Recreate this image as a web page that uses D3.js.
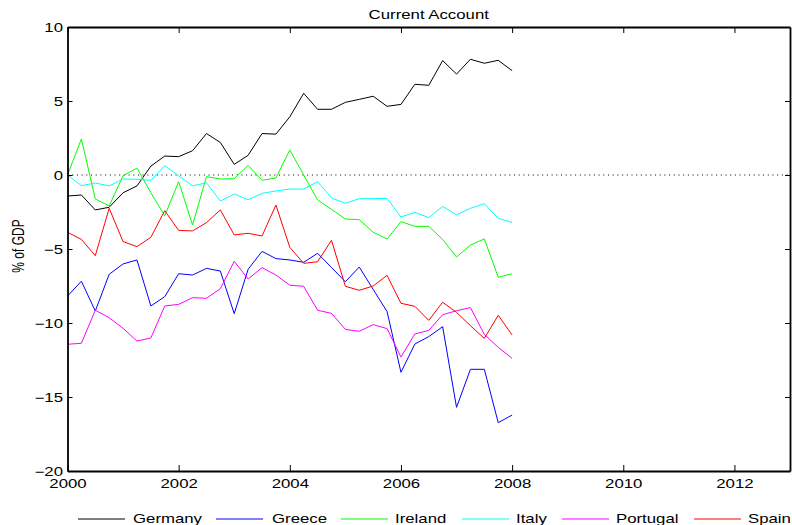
<!DOCTYPE html>
<html>
<head>
<meta charset="utf-8">
<script src="https://cdn.jsdelivr.net/npm/d3@7"></script>
<style>
  html, body { margin: 0; padding: 0; background: #fff; }
  svg { display: block; font-family: "Liberation Sans", Arial, Helvetica, sans-serif; }
</style>
</head>
<body>
<svg id="chart" width="792" height="525"></svg>
<script>
// Quarterly current account balances, % of GDP, 2000Q1 to 2008Q1
const startYear = 2000;
const quarters = d3.range(33).map(i => startYear + i / 4);

const germany = [-1.42, -1.35, -2.36, -2.18, -1.2, -0.74, 0.6, 1.28, 1.24, 1.64, 2.8, 2.2, 0.72, 1.33, 2.8, 2.76, 3.93, 5.52, 4.44, 4.44, 4.91, 5.11, 5.32, 4.64, 4.77, 6.13, 6.06, 7.73, 6.82, 7.82, 7.55, 7.75, 7.05];
const greece = [-8.18, -7.18, -9.19, -6.71, -6.01, -5.74, -8.85, -8.22, -6.67, -6.76, -6.31, -6.49, -9.37, -6.37, -5.16, -5.65, -5.74, -5.9, -5.29, -6.25, -7.21, -6.22, -7.73, -9.23, -13.33, -11.42, -10.92, -10.25, -15.7, -13.13, -13.13, -16.73, -16.22];
const ireland = [0, 2.43, -1.62, -2.09, -0.05, 0.47, -1.2, -2.75, -0.45, -3.38, -0.11, -0.27, -0.25, 0.65, -0.36, -0.2, 1.69, 0.0, -1.69, -2.32, -2.97, -3.02, -3.87, -4.32, -3.15, -3.47, -3.47, -4.35, -5.54, -4.73, -4.32, -6.91, -6.67];
const italy = [0, -0.72, -0.54, -0.74, -0.27, -0.29, -0.36, 0.63, -0.05, -0.74, -0.52, -1.76, -1.28, -1.67, -1.24, -1.08, -0.95, -0.95, -0.45, -1.55, -1.91, -1.6, -1.6, -1.58, -2.84, -2.52, -2.88, -2.12, -2.7, -2.25, -1.94, -2.93, -3.2];
const portugal = [-11.44, -11.37, -9.14, -9.64, -10.36, -11.22, -11.01, -8.85, -8.74, -8.29, -8.33, -7.68, -5.83, -7.03, -6.26, -6.76, -7.45, -7.52, -9.14, -9.35, -10.43, -10.56, -10.11, -10.38, -12.3, -10.74, -10.5, -9.44, -9.17, -8.96, -10.77, -11.64, -12.39];
const spain = [-3.87, -4.35, -5.45, -2.25, -4.5, -4.84, -4.21, -2.41, -3.74, -3.78, -3.22, -2.36, -4.05, -3.94, -4.12, -2.03, -4.89, -5.97, -5.86, -4.41, -7.52, -7.79, -7.5, -6.78, -8.67, -8.87, -9.82, -8.6, -9.28, -10.18, -11.04, -9.48, -10.81];

const seriesNames = ["Germany", "Greece", "Ireland", "Italy", "Portugal", "Spain"];
const seriesColors = ["#000000", "#0000ff", "#00ff00", "#00ffff", "#ff00ff", "#ff0000"];
const seriesValues = [germany, greece, ireland, italy, portugal, spain];

const xTicks = [2000, 2002, 2004, 2006, 2008, 2010, 2012];
const yTicks = [-20, -15, -10, -5, 0, 5, 10];

const svg = d3.select("#chart");
const plot = { left: 67.5, right: 790, top: 27, bottom: 471 };
const fontSize = 12;
const stretch = 1.4;   // text is drawn wide, as in the exported figure

const x = d3.scaleLinear().domain([2000, 2013]).range([plot.left, plot.right]);
const y = d3.scaleLinear().domain([-20, 10]).range([plot.bottom, plot.top]);

const fmt = d3.format("d");

// zero reference line
svg.append("line")
  .attr("x1", x(2000)).attr("x2", x(2013))
  .attr("y1", y(0)).attr("y2", y(0))
  .attr("stroke", "#000").attr("stroke-width", 1)
  .attr("stroke-dasharray", "1,3.7");

// series lines
const line = d3.line().x((d, i) => x(quarters[i])).y(d => y(d));
seriesValues.forEach((vals, k) => {
  svg.append("path")
    .datum(vals)
    .attr("d", line)
    .attr("fill", "none")
    .attr("stroke", seriesColors[k])
    .attr("stroke-width", 1)
    .attr("stroke-linejoin", "miter");
});

// axes: ticks point inward, box on all sides
const axisStyle = g => {
  g.select(".domain").attr("stroke", "#000").attr("stroke-width", 1.8);
  g.selectAll(".tick line").attr("stroke", "#000").attr("stroke-width", 1);
  g.selectAll(".tick text").attr("fill", "#000").attr("font-size", fontSize)
    .attr("font-family", "Liberation Sans, Arial, sans-serif");
};

svg.append("g")
  .attr("transform", `translate(0,${plot.bottom})`)
  .call(d3.axisBottom(x).tickValues(xTicks).tickFormat(fmt).tickSizeInner(-6).tickSizeOuter(0))
  .call(axisStyle)
  .call(g => g.selectAll(".tick text")
    .attr("y", 17).attr("dy", null)
    .attr("transform", `scale(${stretch},1)`));

svg.append("g")
  .attr("transform", `translate(0,${plot.top})`)
  .call(d3.axisTop(x).tickValues(xTicks).tickFormat("").tickSizeInner(-6).tickSizeOuter(0))
  .call(axisStyle);

svg.append("g")
  .attr("transform", `translate(${plot.left},0)`)
  .call(d3.axisLeft(y).tickValues(yTicks).tickFormat(fmt).tickSizeInner(-5).tickSizeOuter(0))
  .call(axisStyle)
  .call(g => g.selectAll(".tick text")
    .attr("x", -4.5 / stretch).attr("dy", "0.38em")
    .attr("transform", `scale(${stretch},1)`));

svg.append("g")
  .attr("transform", `translate(${plot.right},0)`)
  .call(d3.axisRight(y).tickValues(yTicks).tickFormat("").tickSizeInner(-5).tickSizeOuter(0))
  .call(axisStyle);

// title and y label
svg.append("text")
  .attr("transform", `translate(${(plot.left + plot.right) / 2},18.5) scale(${stretch},1)`)
  .attr("text-anchor", "middle").attr("font-size", fontSize).attr("fill", "#000")
  .text("Current Account");

svg.append("text")
  .attr("transform", `translate(24,246) scale(${stretch},1) rotate(-90)`)
  .attr("text-anchor", "middle").attr("font-size", fontSize).attr("fill", "#000")
  .text("% of GDP");

// legend along the bottom
const legendLineX = [78, 216, 341, 462, 562, 694];
const legendTextX = [133, 272, 395, 516, 616, 748];
const legendY = 519;
const legend = svg.append("g");
seriesNames.forEach((name, k) => {
  legend.append("line")
    .attr("x1", legendLineX[k]).attr("x2", legendLineX[k] + 47)
    .attr("y1", legendY).attr("y2", legendY)
    .attr("stroke", seriesColors[k]).attr("stroke-width", 1);
  legend.append("text")
    .attr("transform", `translate(${legendTextX[k]},${legendY + 3.5}) scale(${stretch},1)`)
    .attr("font-size", fontSize).attr("fill", "#000")
    .text(name);
});
</script>
</body>
</html>
